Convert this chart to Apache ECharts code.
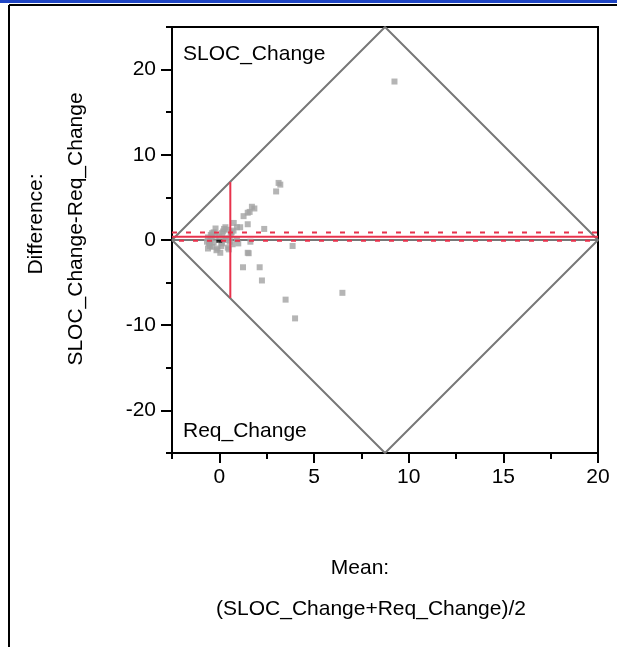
<!DOCTYPE html>
<html>
<head>
<meta charset="utf-8">
<script src="https://cdn.jsdelivr.net/npm/echarts@6/dist/echarts.min.js"></script>
<style>
  html, body { margin: 0; padding: 0; background: #fff; }
  #chart { width: 617px; height: 647px; }
</style>
</head>
<body>
<div id="chart"></div>
<script>
// x: mean, y: difference
const pointMean = [9.25, 3.13, 3.22, 3.0, 1.72, 1.85, 1.6, 1.5, 1.28, 1.5, 0.76, 1.1, 0.93, 0.32,
  2.37, 1.64, 3.87, 1.5, 1.25, 2.13, 2.25, 3.5, 6.5, 4.0,
  0.4, -0.2, -0.38, 0.14, -0.47, -0.3, 0.14, -0.38, 0.05, 0.93, 1.0, 1.55,
  -0.6, -0.2, 0.6, 0.7, -0.55, 0.2, 0.45, -0.1, 0.3, -0.65, 0.5, 0.75, -0.45, 0.0,
  -0.5, -0.3, 0.1, 0.25, -0.6, -0.15, 0.55, 0.35, -0.4, 0.65];
const pointDiff = [18.6, 6.7, 6.5, 5.7, 3.9, 3.7, 3.3, 3.2, 2.8, 1.85, 2.0, 1.5, 1.5, 1.5,
  1.3, -0.2, -0.7, -1.5, -3.2, -3.2, -4.75, -7.0, -6.2, -9.2,
  1.2, 1.35, 0.8, 0.8, 0.0, -0.3, -0.4, -0.8, -1.5, 0.1, -0.4, -1.55,
  0.3, 0.5, 0.5, -0.5, -0.4, 1.0, -0.9, -1.0, 0.2, -0.2, -1.1, 1.1, 0.6, 0.4,
  -0.7, 0.9, -0.7, 1.3, -1.0, -1.2, -0.2, 0.0, 0.45, 0.9];
const blackPoint = [0.0, -0.15];

const meanDiff = 0.38;
const upperLimit = 0.89;
const lowerLimit = -0.1;
const meanOfMeans = 0.58;
const ciHalf = 6.8;

const xRange = [-2.5, 20];
const yRange = [-25, 25];
const xMajor = [0, 5, 10, 15, 20];
const xMinor = [-2.5, 2.5, 7.5, 12.5, 17.5];
const yMajor = [-20, -10, 0, 10, 20];
const yMinor = [-25, -15, -5, 5, 15, 25];
const diamond = [[-2.5, 0], [8.75, 25], [20, 0], [8.75, -25], [-2.5, 0]];

const font = "'Liberation Sans', Arial, sans-serif";
const fontSize = 21;
const red = "#e8324c";
const grey = "#777777";

const myChart = echarts.init(document.getElementById("chart"));

const scatterData = pointMean.map((m, i) => [m, pointDiff[i]]);

const axisBase = {
  type: "value",
  axisLine: { show: true, onZero: false, lineStyle: { color: "#000", width: 2 } },
  splitLine: { show: false },
};

const option = {
  animation: false,
  grid: {
    left: 172, right: 19, top: 27, bottom: 194,
    show: true, borderColor: "#000", borderWidth: 2,
  },
  xAxis: [
    Object.assign({}, axisBase, {
      min: xRange[0], max: xRange[1], position: "bottom",
      axisTick: { show: true, length: 10, customValues: xMajor, lineStyle: { color: "#000", width: 2 } },
      axisLabel: { customValues: xMajor, color: "#000", fontSize: fontSize, fontFamily: font, margin: 14 },
    }),
    Object.assign({}, axisBase, {
      min: xRange[0], max: xRange[1], position: "bottom", offset: 0,
      axisTick: { show: true, length: 6, customValues: xMinor, lineStyle: { color: "#000", width: 2 } },
      axisLabel: { show: false },
    }),
  ],
  yAxis: [
    Object.assign({}, axisBase, {
      min: yRange[0], max: yRange[1], position: "left",
      axisTick: { show: true, length: 11, customValues: yMajor, lineStyle: { color: "#000", width: 2 } },
      axisLabel: { customValues: yMajor, color: "#000", fontSize: fontSize, fontFamily: font, margin: 16 },
    }),
    Object.assign({}, axisBase, {
      min: yRange[0], max: yRange[1], position: "left", offset: 0,
      axisTick: { show: true, length: 6, customValues: yMinor, lineStyle: { color: "#000", width: 2 } },
      axisLabel: { show: false },
    }),
  ],
  series: [
    {
      type: "line", data: diamond, symbol: "none",
      lineStyle: { color: grey, width: 2 }, z: 2,
    },
    {
      type: "line", data: [[xRange[0], 0], [xRange[1], 0]], symbol: "none",
      lineStyle: { color: grey, width: 2 }, z: 2,
    },
    {
      type: "scatter", data: scatterData, symbol: "rect", symbolSize: 6,
      itemStyle: { color: "#a3a3a3" }, z: 3,
    },
    {
      type: "scatter", data: [blackPoint], symbol: "rect", symbolSize: [6, 3],
      itemStyle: { color: "#000" }, z: 4,
    },
    {
      type: "line", data: [[xRange[0], meanDiff], [xRange[1], meanDiff]], symbol: "none",
      lineStyle: { color: red, width: 2 }, z: 5,
    },
    {
      type: "line", data: [[xRange[0], upperLimit], [xRange[1], upperLimit]], symbol: "none",
      lineStyle: { color: red, width: 2, type: [5, 9] }, z: 5,
    },
    {
      type: "line", data: [[xRange[0], lowerLimit], [xRange[1], lowerLimit]], symbol: "none",
      lineStyle: { color: red, width: 2, type: [5, 9], dashOffset: 7 }, z: 5,
    },
    {
      type: "line", data: [[meanOfMeans, -ciHalf], [meanOfMeans, ciHalf]], symbol: "none",
      lineStyle: { color: red, width: 2 }, z: 5,
    },
  ],
  graphic: [
    { type: "rect", shape: { x: 0, y: 0, width: 617, height: 3 }, style: { fill: "#1f45c4" } },
    { type: "line", shape: { x1: 9, y1: 5, x2: 617, y2: 5 }, style: { stroke: "#000", lineWidth: 2 } },
    { type: "line", shape: { x1: 9, y1: 5, x2: 9, y2: 647 }, style: { stroke: "#000", lineWidth: 2 } },
    { type: "text", left: 183, top: 44, style: { text: "SLOC_Change", font: fontSize + "px " + font, fill: "#000" } },
    { type: "text", left: 183, top: 421, style: { text: "Req_Change", font: fontSize + "px " + font, fill: "#000" } },
    { type: "text", x: 36, y: 224, rotation: Math.PI / 2,
      style: { text: "Difference:", font: fontSize + "px " + font, fill: "#000", align: "center", verticalAlign: "middle" } },
    { type: "text", x: 76, y: 229, rotation: Math.PI / 2,
      style: { text: "SLOC_Change-Req_Change", font: fontSize + "px " + font, fill: "#000", align: "center", verticalAlign: "middle" } },
    { type: "text", x: 360, y: 568,
      style: { text: "Mean:", font: fontSize + "px " + font, fill: "#000", align: "center", verticalAlign: "middle" } },
    { type: "text", x: 371, y: 609,
      style: { text: "(SLOC_Change+Req_Change)/2", font: fontSize + "px " + font, fill: "#000", align: "center", verticalAlign: "middle" } },
  ],
};

myChart.setOption(option);
</script>
</body>
</html>
